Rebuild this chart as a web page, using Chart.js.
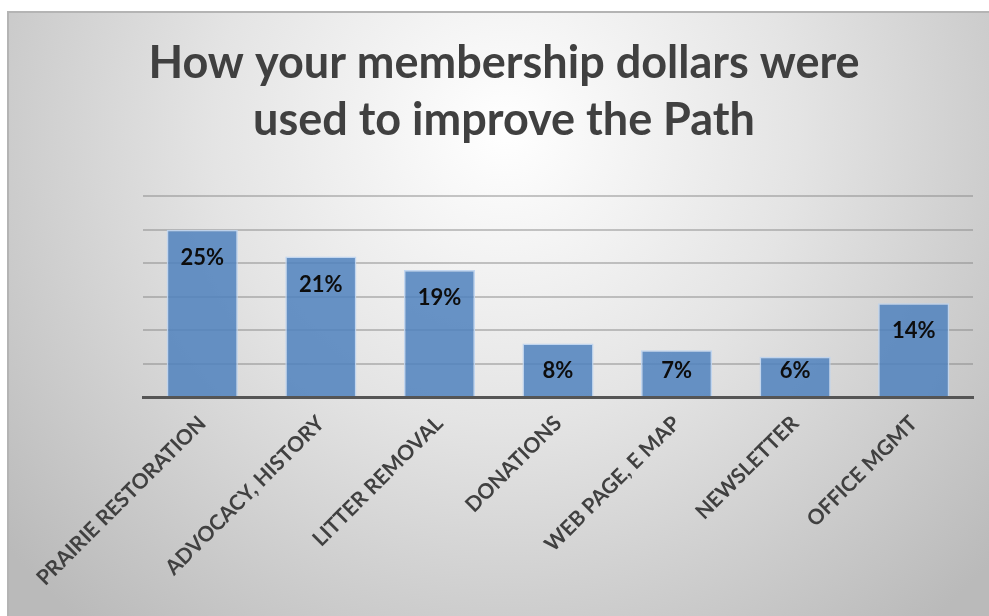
<!DOCTYPE html>
<html>
<head>
<meta charset="utf-8">
<script src="https://cdn.jsdelivr.net/npm/chart.js@4.4.1/dist/chart.umd.min.js"></script>
<style>
  html, body { margin: 0; padding: 0; background: #fff; }
  #wrap { width: 989px; height: 616px; }
</style>
</head>
<body>
<div id="wrap"><canvas id="usageChart" width="989" height="616"></canvas></div>
<script>
// chart data
const categories = ['PRAIRIE RESTORATION', 'ADVOCACY, HISTORY', 'LITTER REMOVAL', 'DONATIONS', 'WEB PAGE, E MAP', 'NEWSLETTER', 'OFFICE MGMT'];
const shares = [25, 21, 19, 8, 7, 6, 14];
const titleLines = ['How your membership dollars were', 'used to improve the Path'];

// gradient background + frame
const backgroundPlugin = {
  id: 'bg',
  beforeDraw(chart) {
    const ctx = chart.ctx;
    ctx.save();
    ctx.fillStyle = '#ffffff';
    ctx.fillRect(0, 0, chart.width, chart.height);
    const g = ctx.createRadialGradient(505, 130, 0, 505, 130, 650);
    g.addColorStop(0, '#ffffff');
    g.addColorStop(0.45, '#e4e4e4');
    g.addColorStop(1, '#bababa');
    ctx.fillStyle = g;
    ctx.fillRect(8, 12, chart.width - 8, chart.height - 12);
    ctx.strokeStyle = '#b4b4b4';
    ctx.lineWidth = 2;
    ctx.beginPath();
    ctx.moveTo(8, chart.height);
    ctx.lineTo(8, 12);
    ctx.lineTo(chart.width, 12);
    ctx.stroke();
    ctx.restore();
  }
};

// value labels inside the top of each bar (short bars keep them off the axis)
const valueLabels = {
  id: 'valueLabels',
  afterDatasetsDraw(chart) {
    const ctx = chart.ctx;
    const meta = chart.getDatasetMeta(0);
    ctx.save();
    ctx.font = 'bold 22px Lato';
    ctx.fillStyle = '#0d0d0d';
    ctx.textAlign = 'center';
    ctx.textBaseline = 'middle';
    meta.data.forEach((bar, i) => {
      const y = Math.min(bar.y + 28, bar.base - 25);
      ctx.fillText(shares[i] + '%', bar.x, y);
    });
    ctx.restore();
  }
};

const ctx = document.getElementById('usageChart').getContext('2d');
new Chart(ctx, {
  type: 'bar',
  data: {
    labels: categories,
    datasets: [{
      data: shares,
      backgroundColor: 'rgba(79, 129, 189, 0.85)',
      borderColor: 'rgba(190, 212, 240, 0.9)',
      borderWidth: 1.5,
      barPercentage: 0.6,
      categoryPercentage: 1.0
    }]
  },
  options: {
    responsive: false,
    animation: false,
    layout: { padding: { left: 35, right: 16, top: 0, bottom: 0 } },
    plugins: {
      legend: { display: false },
      tooltip: { enabled: false },
      title: {
        display: true,
        text: titleLines,
        color: '#404040',
        font: { family: 'Lato', size: 45, weight: 'bold', lineHeight: 1.27 },
        padding: { top: 35, bottom: 47 }
      }
    },
    scales: {
      x: {
        grid: { display: false, drawTicks: false },
        border: { display: true, color: '#555555', width: 3 },
        ticks: {
          color: '#404040',
          font: { family: 'Lato', size: 21, weight: 'bold' },
          minRotation: 45,
          maxRotation: 45,
          padding: 14,
          autoSkip: false
        },
        afterFit(scale) { scale.height = 219; }
      },
      y: {
        min: 0,
        max: 30,
        ticks: { display: false, stepSize: 5 },
        grid: { color: 'rgba(130, 130, 130, 0.45)', lineWidth: 2, drawTicks: false },
        border: { display: false },
        afterFit(scale) { scale.width = 108; }
      }
    }
  },
  plugins: [backgroundPlugin, valueLabels]
});
</script>
</body>
</html>
